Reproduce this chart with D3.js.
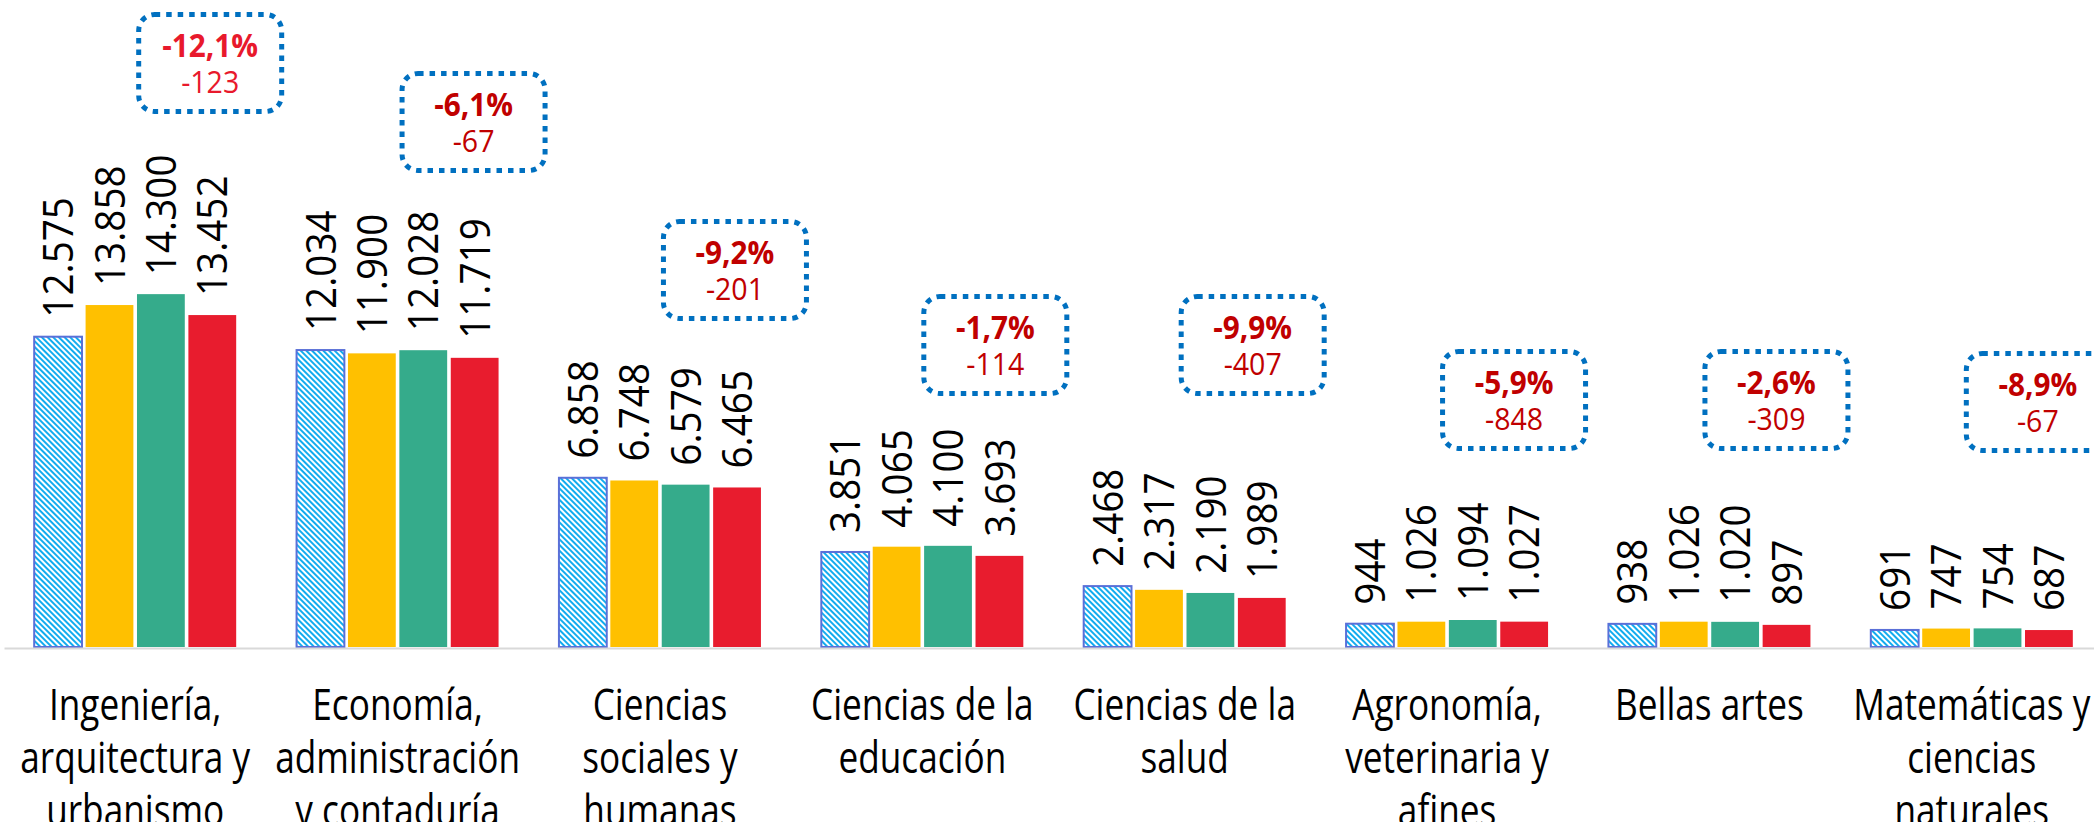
<!DOCTYPE html>
<html><head><meta charset="utf-8">
<script src="https://cdn.jsdelivr.net/npm/d3@7"></script>
<style>html,body{margin:0;padding:0;background:#fff;overflow:hidden}</style>
</head><body><svg id="chart" width="2094" height="822"></svg>
<script>
// ---- data ----
const categories = [
  "Ingeniería,\narquitectura y\nurbanismo",
  "Economía,\nadministración\ny contaduría",
  "Ciencias\nsociales y\nhumanas",
  "Ciencias de la\neducación",
  "Ciencias de la\nsalud",
  "Agronomía,\nveterinaria y\nafines",
  "Bellas artes",
  "Matemáticas y\nciencias\nnaturales"
];
const seriesKeys = ["s1", "s2", "s3", "s4"];
const s1 = [12575, 12034, 6858, 3851, 2468, 944, 938, 691];
const s2 = [13858, 11900, 6748, 4065, 2317, 1026, 1026, 747];
const s3 = [14300, 12028, 6579, 4100, 2190, 1094, 1020, 754];
const s4 = [13452, 11719, 6465, 3693, 1989, 1027, 897, 687];
const pctChange = ["-12,1%", "-6,1%", "-9,2%", "-1,7%", "-9,9%", "-5,9%", "-2,6%", "-8,9%"];
const absChange = ["-123", "-67", "-201", "-114", "-407", "-848", "-309", "-67"];

// ---- layout (pixels, not data) ----
const calloutTop = [12, 71, 219, 294, 294, 349, 349, 351];
const calloutDx = [1, 2, 1, -1, -6, -7, -7, -8];

const seriesValues = {s1, s2, s3, s4};
const fills = {s1: "url(#hatch)", s2: "#ffc000", s3: "#35ab8b", s4: "#e81c2e"};
const FONT = "'Open Sans', 'Noto Sans', sans-serif";

const svg = d3.select("#chart");
const defs = svg.append("defs");
const pat = defs.append("pattern").attr("id", "hatch")
  .attr("patternUnits", "userSpaceOnUse").attr("width", 4).attr("height", 4)
  .attr("patternTransform", "rotate(45)");
pat.append("rect").attr("width", 4).attr("height", 4).attr("fill", "#fff");
pat.append("rect").attr("width", 4).attr("height", 2).attr("fill", "#12acef");

const baseY = 647;
const x0 = d3.scaleBand().domain(categories).range([4, 2103]).padding(0);
const x1 = d3.scaleBand().domain(seriesKeys).range([0, 202]).paddingInner(0.07);
const y = d3.scaleLinear().domain([0, 26220]).range([baseY, 0]);
const center = c => x0(c) + x0.bandwidth() / 2;

function compress(sel, k) {
  sel.each(function () {
    const L = this.getComputedTextLength();
    this.setAttribute("textLength", (L * k).toFixed(2));
    this.setAttribute("lengthAdjust", "spacingAndGlyphs");
  });
}

// bars
const groups = svg.append("g").selectAll("g").data(categories).join("g")
  .attr("transform", c => `translate(${center(c) - 101},0)`);

const barData = (c, i) => seriesKeys.map(k => ({k, v: seriesValues[k][i]}));

groups.each(function (c, i) {
  const g = d3.select(this);
  const d = barData(c, i);
  g.selectAll("rect").data(d).join("rect")
    .attr("x", e => x1(e.k))
    .attr("y", e => y(e.v))
    .attr("width", x1.bandwidth())
    .attr("height", e => baseY - y(e.v))
    .attr("fill", e => fills[e.k])
    .attr("stroke", e => e.k === "s1" ? "#5a70d8" : "none")
    .attr("stroke-width", 2);
  const t = g.selectAll("text").data(d).join("text")
    .attr("transform", e => `translate(${x1(e.k) + x1.bandwidth() / 2},${y(e.v) - 19}) rotate(-90)`)
    .attr("dy", "0.36em")
    .attr("text-anchor", "start")
    .attr("font-family", FONT)
    .attr("font-size", 42)
    .attr("fill", "#000")
    .text(e => d3.format(",")(e.v).replace(/,/g, "."));
  compress(t, 0.92);
});

// axis baseline
const axis = svg.append("g").attr("transform", `translate(0,${baseY + 1})`)
  .call(d3.axisBottom(x0).tickSize(0).tickSizeOuter(0).tickFormat(""));
axis.select(".domain").attr("stroke", "#d9d9d9").attr("stroke-width", 2);

// category labels
const labG = svg.append("g");
categories.forEach(c => {
  c.split("\n").forEach((line, j) => {
    const t = labG.append("text")
      .attr("x", center(c)).attr("y", 720 + j * 53)
      .attr("text-anchor", "middle")
      .attr("font-family", FONT).attr("font-size", 44).attr("fill", "#000")
      .text(line);
    compress(t, 0.80);
  });
});

// callouts
const cg = svg.append("g");
categories.forEach((c, i) => {
  const left = center(c) + calloutDx[i];
  const top = calloutTop[i];
  cg.append("rect")
    .attr("x", left + 2.5).attr("y", top + 2.5)
    .attr("width", 143).attr("height", 97).attr("rx", 16).attr("ry", 16)
    .attr("fill", "none").attr("stroke", "#0070c0").attr("stroke-width", 5)
    .attr("stroke-dasharray", "5.5 6");
  const col = i === 0 ? "#e8192c" : "#c00000";
  const t1 = cg.append("text").attr("x", left + 74).attr("y", top + 45)
    .attr("text-anchor", "middle").attr("font-family", FONT)
    .attr("font-weight", "bold").attr("font-size", 33).attr("fill", col)
    .text(pctChange[i]);
  compress(t1, 0.9);
  const t2 = cg.append("text").attr("x", left + 74).attr("y", top + 81)
    .attr("text-anchor", "middle").attr("font-family", FONT)
    .attr("font-size", 31).attr("fill", col)
    .text(absChange[i]);
  compress(t2, 0.92);
});
</script>
</body></html>
